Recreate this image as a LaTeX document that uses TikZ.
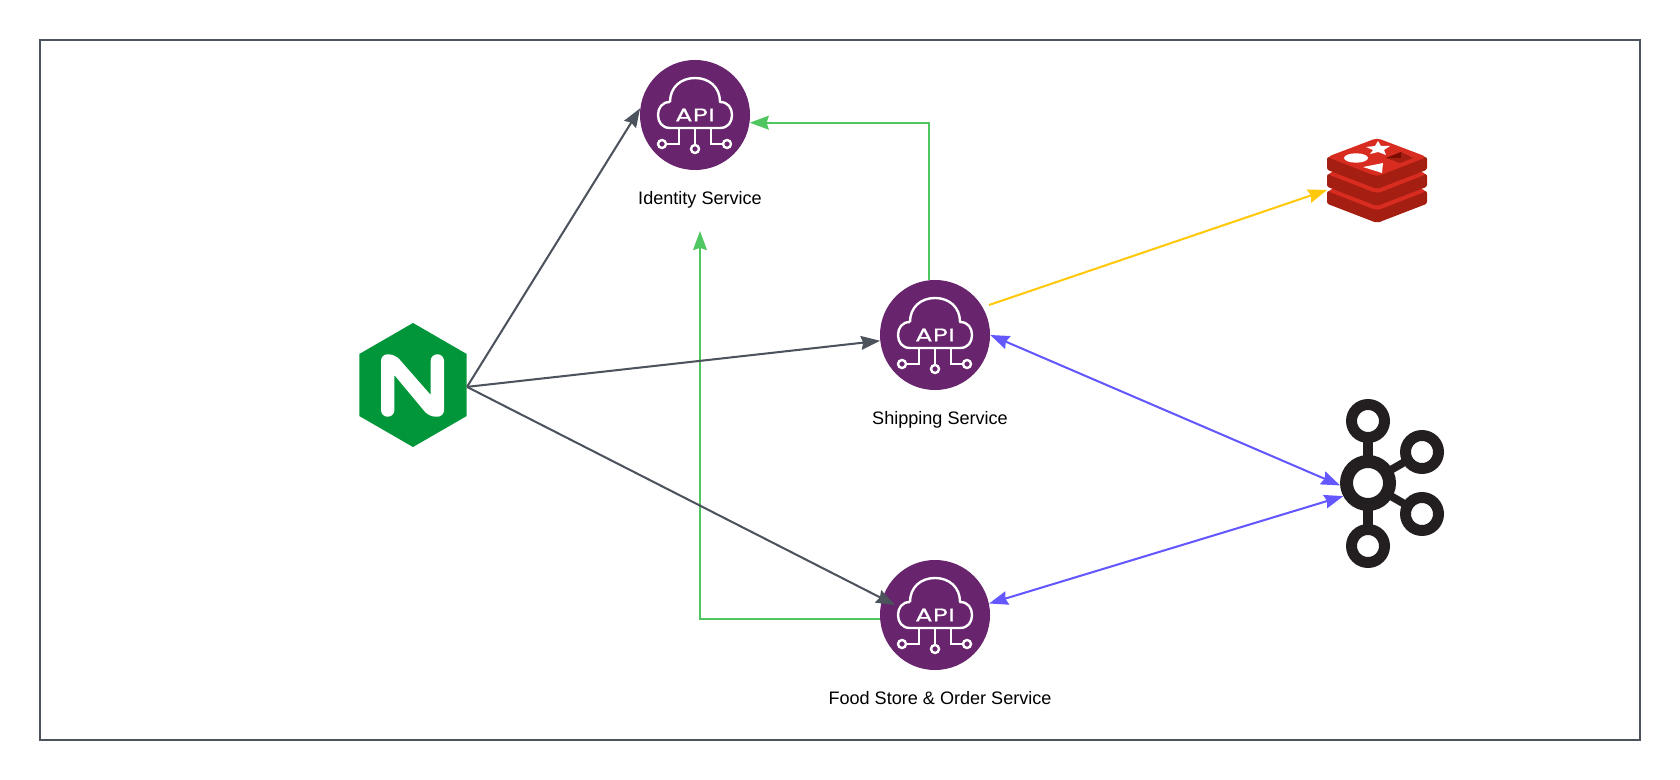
\documentclass[tikz,border=0pt]{standalone}
\usepackage{fontspec}
\setmainfont{Liberation Sans}
\newfontfamily\apifont[FakeStretch=1.4, FakeBold=0.6, LetterSpace=3]{Poppins}
\usetikzlibrary{arrows.meta,shapes.geometric}
\definecolor{framegray}{HTML}{4C535D}
\definecolor{apipurple}{HTML}{68246D}
\definecolor{nginxgreen}{HTML}{009639}
\definecolor{linegreen}{HTML}{4FC65F}
\definecolor{lineyellow}{HTML}{FFC80A}
\definecolor{lineblue}{HTML}{6457FF}
\definecolor{kafkablack}{HTML}{231F20}
\definecolor{redisbright}{HTML}{D82C20}
\definecolor{redisdark}{HTML}{A41E11}
\definecolor{redisdeep}{HTML}{7A0C00}
\begin{document}
\begin{tikzpicture}[x=0.025cm, y=-0.025cm, node distance=2.115cm,
    api/.style = {circle, fill=apipurple, inner sep=0, minimum size=2.75cm},
    apitext/.style = {text=white, inner sep=0, font=\apifont\fontsize{13}{13}\selectfont},
    service/.style = {font=\fontsize{12.85}{14}\selectfont, xshift=0.125cm, text height=9.4pt, text depth=2.7pt},
    conn/.style = {line width=1.45pt, -{Stealth[length=13.5pt, width=9.8pt, inset=1.5pt]}},
    both/.style = {conn, {Stealth[length=13.5pt, width=9.8pt, inset=1.5pt]}-{Stealth[length=13.5pt, width=9.8pt, inset=1.5pt]}},
    kring/.style = {circle, draw=kafkablack, fill=white, inner sep=0, line width=7.8pt, minimum size=0.825cm},
    apicloud/.pic = {
        \draw[white, line width=1.7pt, line join=round]
            (-25,-13) .. controls (-25,-28) and (-14,-37) .. (0,-37) .. controls (14,-37) and (25,-28) .. (25,-13)
            .. controls (33,-13) and (37,-7) .. (37,0) .. controls (37,7) and (33,13) .. (25,13)
            -- (-25,13) .. controls (-33,13) and (-37,7) .. (-37,0) .. controls (-37,-7) and (-33,-13) .. (-25,-13);
        \draw[white, line width=1.7pt] (-16,13) |- (-29,29) (0,13) -- (0,30) (16,13) |- (28,29);
        \foreach \cx/\cy in {-33/29, 0/34, 32/29}
            \draw[white, line width=1.7pt] (\cx,\cy) circle (4);
    },
    redislayer/.pic = {
        \fill[redisdark, rounded corners=1.5pt] (-50,0) -- (-50,12.7) -- (0,32) -- (50,12.7) -- (50,0) -- cycle;
        \fill[redisbright, rounded corners=3pt] (-50,0) -- (0,-19) -- (50,0) -- (0,19.5) -- cycle;
    }]
    \useasboundingbox (0,0) rectangle (1680,780);
    \node[draw=framegray, line width=1.45pt, inner sep=0, minimum width=40cm, minimum height=17.5cm] (frame) at (840,390) {};

    % services
    \node[api] (identity) at (695,115) {};
    \node[api] (shipping) at (935,335) {};
    \node[api] (food) at (935,615) {};
    \pic at (695,115) {apicloud};
    \pic at (935,335) {apicloud};
    \pic at (935,615) {apicloud};
    \node[apitext] (identityapi) at (695,115) {API};
    \node[apitext] (shippingapi) at (935,335) {API};
    \node[apitext] (foodapi) at (935,615) {API};
    \node[service] (identitytext) [below of=identity] {Identity Service};
    \node[service] (shippingtext) [below of=shipping] {Shipping Service};
    \node[service] (foodtext) [below of=food] {Food Store \& Order Service};

    % nginx
    \node[regular polygon, regular polygon sides=6, shape border rotate=90, fill=nginxgreen, inner sep=0, minimum size=3.1cm] (nginx) at (413,385) {};
    \fill[white, rounded corners=4.6pt] (381,354.3) -- (395,354.3) [sharp corners] -- (430.7,395) [rounded corners=4.6pt] -- (430.7,354.3) -- (444,354.3) -- (444,416.7) -- (429,416.7) [sharp corners] -- (394.3,375) [rounded corners=4.6pt] -- (394.3,416.7) -- (381,416.7) -- cycle;

    % redis
    \node[inner sep=0, outer sep=0, minimum width=2.5cm, minimum height=2.4cm] (redis) at (1377,190) {};
    \pic at (1377,191) {redislayer};
    \pic at (1377,174) {redislayer};
    \pic at (1377,157) {redislayer};
    \fill[white] (1356,158) ellipse (12 and 4.7);
    \fill[white] (1378,141) -- (1381,146) -- (1390,146) -- (1384,150) -- (1386,155) -- (1378,152) -- (1370,154) -- (1373,150) -- (1366,147) -- (1375,146) -- cycle;
    \fill[white] (1363,167) -- (1383,163) -- (1382,173) -- cycle;
    \fill[redisdark] (1386,158) -- (1401,152) -- (1413,158) -- (1400,163) -- cycle;
    \fill[redisdeep] (1386,158) -- (1401,152) -- (1401,158) -- cycle;

    % kafka
    \draw[kafkablack, line width=7.2pt] (1368,421) -- (1368,546);
    \draw[kafkablack, line width=5.6pt] (1368,483) -- (1422,452) (1368,483) -- (1422,514);
    \node[kring] (ktop) at (1368,421) {};
    \node[kring] (kbottom) at (1368,546) {};
    \node[kring] (kupper) at (1422,452) {};
    \node[kring] (klower) at (1422,514) {};
    \node[kring, line width=9.2pt, minimum size=1.075cm] (kafka) at (1368,483) {};

    % connectors
    \coordinate (identityin) at (700,231);
    \coordinate (foodin) at (895,605);
    \coordinate (shippingout) at (989,305);
    \draw[conn, linegreen] (shipping.96) |- (identity.-8);
    \draw[conn, linegreen] (food.184) -| (identityin);
    \draw[conn, framegray] (nginx.-2) -- (identity.173);
    \draw[conn, framegray] (nginx.-2) -- (shipping.186);
    \draw[conn, framegray] (nginx.-2) -- (foodin);
    \draw[conn, lineyellow] (shippingout) -- (redis.west);
    \draw[both, lineblue] (shipping.east) -- (kafka.185);
    \draw[both, lineblue] (food.12) -- (kafka.208);
\end{tikzpicture}
\end{document}
